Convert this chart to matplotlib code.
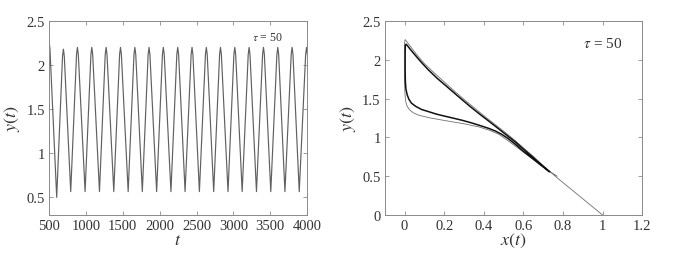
import matplotlib
matplotlib.use("Agg")
import matplotlib.pyplot as plt
from matplotlib.ticker import FuncFormatter

plt.rcParams['font.family'] = ['Liberation Serif', 'DejaVu Serif']
plt.rcParams['mathtext.fontset'] = 'stix'

# ---- time series y(t): peaks, shoulders and troughs ----
peak_t = [500, 695, 885, 1080, 1274, 1469, 1664, 1856, 2050, 2245, 2439,
          2633, 2825, 3019, 3213, 3408, 3602, 3796, 3992]
peak_y = [2.27, 2.18, 2.20, 2.20, 2.20, 2.20, 2.20, 2.20, 2.20, 2.20, 2.20,
          2.20, 2.20, 2.20, 2.20, 2.20, 2.20, 2.20, 2.20]
rise_t = [None, 683, 873, 1068, 1262, 1457, 1652, 1844, 2038, 2233, 2427,
          2621, 2813, 3007, 3201, 3396, 3590, 3784, 3980]
rise_y = [None, 2.10, 2.12, 2.12, 2.12, 2.12, 2.12, 2.12, 2.12, 2.12, 2.12,
          2.12, 2.12, 2.12, 2.12, 2.12, 2.12, 2.12, 2.12]
fall_t = [512, 707, 897, 1092, 1286, 1481, 1676, 1868, 2062, 2257, 2451,
          2645, 2837, 3031, 3225, 3420, 3614, 3808, 4004]
fall_y = [2.19, 2.10, 2.12, 2.12, 2.12, 2.12, 2.12, 2.12, 2.12, 2.12, 2.12,
          2.12, 2.12, 2.12, 2.12, 2.12, 2.12, 2.12, 2.12]
trough_t = [604, 794, 989, 1184, 1378, 1573, 1765, 1959, 2153, 2345, 2539,
            2733, 2927, 3119, 3313, 3507, 3699, 3893]
trough_y = [0.50, 0.565, 0.565, 0.565, 0.565, 0.565, 0.565, 0.565, 0.565,
            0.565, 0.565, 0.565, 0.565, 0.565, 0.565, 0.565, 0.565, 0.565]

# ---- phase plane: transient loop ----
trans_x = [1.0, 0.885, 0.77, 0.73, 0.69, 0.65, 0.60, 0.56, 0.51, 0.45, 0.40,
           0.35, 0.30, 0.25, 0.20, 0.15, 0.10, 0.06, 0.03, 0.012, 0.003,
           0.0, -0.001, -0.001, 0.0, 0.002, 0.006, 0.013, 0.025, 0.045,
           0.072, 0.13, 0.207, 0.30, 0.375, 0.43, 0.476, 0.51, 0.55, 0.60,
           0.65, 0.70, 0.77]
trans_y = [0.0, 0.24, 0.48, 0.57, 0.66, 0.755, 0.865, 0.955, 1.06, 1.18, 1.28,
           1.385, 1.49, 1.60, 1.715, 1.83, 1.95, 2.07, 2.17, 2.23, 2.26,
           2.22, 2.10, 1.90, 1.70, 1.56, 1.46, 1.40, 1.355, 1.315,
           1.285, 1.25, 1.215, 1.175, 1.135, 1.09, 1.04, 0.98, 0.905, 0.81,
           0.715, 0.615, 0.50]

# ---- phase plane: limit cycle ----
cyc_x = [0.73, 0.69, 0.65, 0.60, 0.56, 0.51, 0.47, 0.43, 0.384, 0.33, 0.27,
         0.22, 0.165, 0.12, 0.08, 0.05, 0.03, 0.015, 0.008, 0.004, 0.003,
         0.003, 0.003, 0.004, 0.007, 0.013, 0.022, 0.035, 0.056, 0.085,
         0.123, 0.16, 0.20, 0.25, 0.291, 0.34, 0.384, 0.426, 0.46, 0.49,
         0.52, 0.56, 0.60, 0.65, 0.69, 0.73]
cyc_y = [0.56, 0.65, 0.74, 0.85, 0.94, 1.04, 1.12, 1.20, 1.29, 1.40, 1.53,
         1.64, 1.76, 1.87, 1.98, 2.07, 2.13, 2.18, 2.20, 2.19, 2.10,
         2.00, 1.85, 1.72, 1.62, 1.55, 1.49, 1.44, 1.40, 1.36,
         1.33, 1.30, 1.275, 1.245, 1.22, 1.185, 1.15, 1.115, 1.08, 1.04,
         0.99, 0.91, 0.82, 0.72, 0.64, 0.56]

ts_t, ts_y = [], []
for i in range(len(peak_t)):
    if rise_t[i] is not None:
        ts_t.append(rise_t[i]); ts_y.append(rise_y[i])
    ts_t.append(peak_t[i]); ts_y.append(peak_y[i])
    ts_t.append(fall_t[i]); ts_y.append(fall_y[i])
    if i < len(trough_t):
        ts_t.append(trough_t[i]); ts_y.append(trough_y[i])

fig = plt.figure(figsize=(6.81, 2.55), dpi=100)
ax1 = fig.add_axes([0.072, 0.153, 0.379, 0.761])
ax2 = fig.add_axes([0.565, 0.153, 0.378, 0.761])

spine_c = '#8a8a8a'
txt_c = '#333333'
fmt = FuncFormatter(lambda v, p: ('%g' % round(v, 3)))

for ax in (ax1, ax2):
    for s in ax.spines.values():
        s.set_color(spine_c)
        s.set_linewidth(0.7)
    ax.tick_params(direction='in', top=True, right=True, length=3,
                   width=0.6, color=spine_c, labelsize=10.5, labelcolor=txt_c,
                   pad=3)
    ax.xaxis.set_major_formatter(fmt)
    ax.yaxis.set_major_formatter(fmt)

ax1.plot(ts_t, ts_y, color='#606060', lw=0.85)
ax1.set_xlim(500, 4000)
ax1.set_ylim(0.3, 2.5)
ax1.set_xticks(range(500, 4001, 500))
ax1.set_yticks([0.5, 1, 1.5, 2, 2.5])
ax1.set_xlabel(r'$t$', fontsize=13, color=txt_c, labelpad=-1)
ax1.set_ylabel(r'$y(t)$', fontsize=13, color=txt_c, labelpad=3)
ax1.text(3250, 2.28, r'$\tau$ = 50', fontsize=8.5, color=txt_c)

ax2.plot(trans_x, trans_y, color='#707070', lw=0.6)
ax2.plot(cyc_x, cyc_y, color='#111111', lw=1.1)
ax2.set_xlim(-0.1, 1.2)
ax2.set_ylim(0, 2.5)
ax2.set_xticks([0, 0.2, 0.4, 0.6, 0.8, 1, 1.2])
ax2.set_yticks([0, 0.5, 1, 1.5, 2, 2.5])
ax2.set_xlabel(r'$x(t)$', fontsize=13, color=txt_c, labelpad=-1)
ax2.set_ylabel(r'$y(t)$', fontsize=13, color=txt_c, labelpad=3)
ax2.text(0.9, 2.16, r'$\tau$ = 50', fontsize=11, color=txt_c)

fig.savefig('out.png', dpi=100)
